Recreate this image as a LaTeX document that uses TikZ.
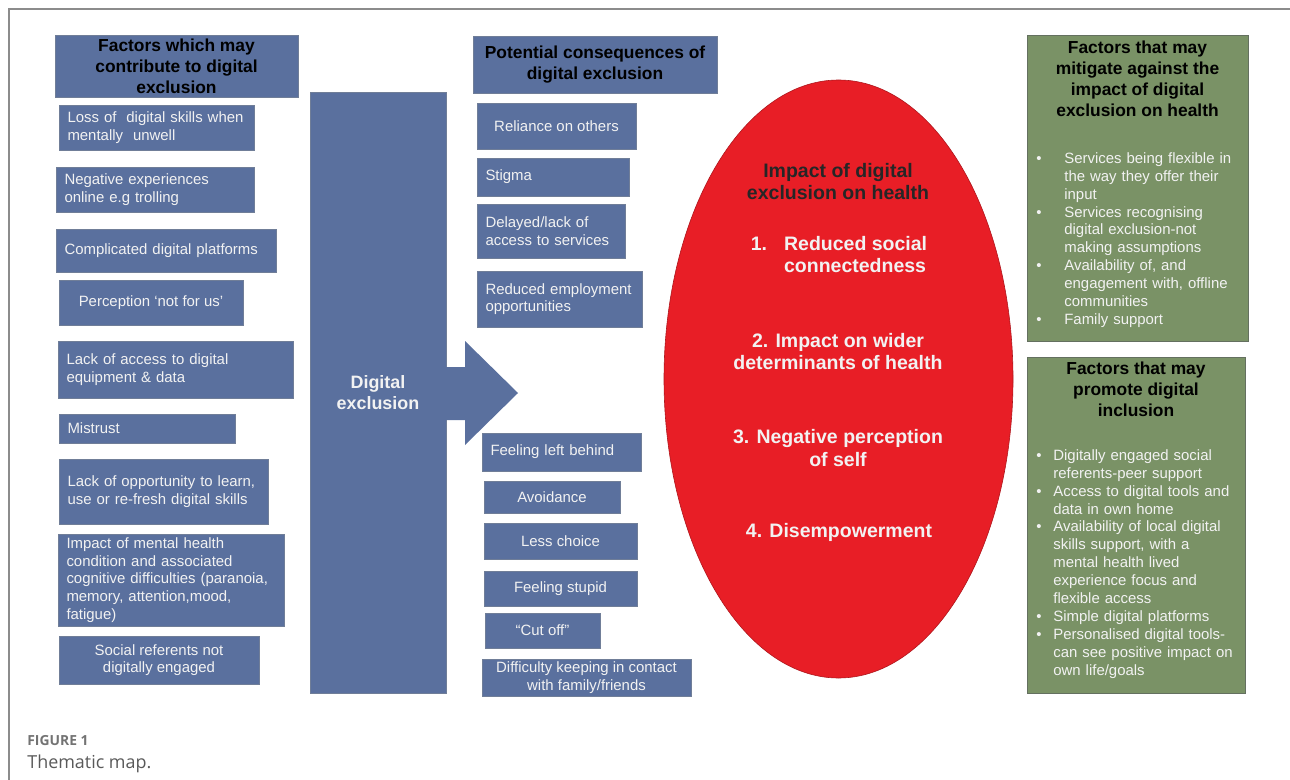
\documentclass[tikz,border=0pt]{standalone}
\usepackage{fontspec}
\setmainfont{Liberation Sans}
\newfontfamily\capfont{Open Sans}
\usepackage{tikz}
\usetikzlibrary{shapes.geometric}
\newdimen\pxu
\pxu=0.02cm
\definecolor{boxBlue}{RGB}{90,112,158}
\definecolor{boxEdge}{RGB}{112,126,152}
\definecolor{greenFill}{RGB}{122,146,102}
\definecolor{greenEdge}{RGB}{100,112,96}
\definecolor{impactRed}{RGB}{232,30,38}
\definecolor{paleText}{RGB}{242,242,242}
\colorlet{frameGray}{black!45}
\newcommand{\boxfont}{\fontsize{8.5}{10}\selectfont}
\newcommand{\headfont}{\fontsize{9.9}{11.9}\selectfont\bfseries}
\newcommand{\listfont}{\fontsize{8.5}{10.2}\selectfont}
\newcommand{\impactfont}{\fontsize{11.1}{13}\selectfont\bfseries}
\newcommand{\exclfont}{\fontsize{10.2}{11.9}\selectfont\bfseries}
\newcommand{\bitem}[1]{\par\noindent\hspace*{-#1}\makebox[#1][l]{\textbullet}}
\tikzset{
    boxsize/.style 2 args={minimum width=#1\pxu, minimum height=#2\pxu},
    factorBox/.style={draw=boxEdge, line width=0.6\pxu, fill=boxBlue, text=paleText,
        font=\boxfont, inner xsep=8.5\pxu, inner ysep=0pt},
    lefttext/.style={align=left, text width=#1\pxu-17\pxu},
    headBox/.style={factorBox, text=black, font=\headfont, align=center},
    greenBox/.style={draw=greenEdge, line width=0.6\pxu, fill=greenFill},
    greenHead/.style={anchor=north, inner sep=0pt, font=\headfont, text=black, align=center},
    greenList/.style={anchor=north west, inner sep=0pt, font=\listfont, text=paleText,
        align=left, text width=210\pxu},
    impactText/.style={font=\impactfont, text=paleText, inner sep=0pt}
}
\begin{document}
\begin{tikzpicture}[x=0.02cm, y=-0.02cm, every node/.style={font=\boxfont}]
    \useasboundingbox (0,0) rectangle (1290,780);
    \draw[frameGray, line width=1.5\pxu] (9,780) -- (9,9) -- (1290,9);

    % Factors which may contribute (left)
    \node[headBox, boxsize={243}{62}] (hdrFactors) at (176.5,66)
        {Factors which may\\contribute to digital\\exclusion};
    \node[factorBox, lefttext=195, boxsize={195}{45}] (fLoss) at (156.5,127.5)
        {Loss of\ \ digital skills when\\mentally\ \ unwell};
    \node[factorBox, lefttext=198, boxsize={198}{45}] (fNegative) at (155,189.5)
        {Negative experiences\\online e.g trolling};
    \node[factorBox, lefttext=220, boxsize={220}{43}] (fPlatforms) at (166,250.5)
        {Complicated digital platforms};
    \node[factorBox, align=center, boxsize={184}{45}] (fPerception) at (151,302.5)
        {Perception ‘not for us’};
    \node[factorBox, lefttext=235, boxsize={235}{57}] (fAccess) at (175.5,369.5)
        {Lack of access to digital\\equipment \& data};
    \node[factorBox, lefttext=176, boxsize={176}{29}] (fMistrust) at (147,428.5)
        {Mistrust};
    \node[factorBox, lefttext=209, boxsize={209}{65}] (fOpportunity) at (163.5,491.5)
        {Lack of opportunity to learn,\\use or re-fresh digital skills};
    \node[factorBox, lefttext=226, boxsize={226}{92}] (fMental) at (171,580)
        {Impact of mental health\\condition and associated\\cognitive difficulties (paranoia,\\memory, attention,mood,\\fatigue)};
    \node[factorBox, align=center, boxsize={200}{48}] (fSocial) at (159,660)
        {Social referents not\\digitally engaged};

    % Digital exclusion bar and arrow
    \node[factorBox, align=center, font=\exclfont, boxsize={136}{601}] (exclBar) at (378,392.5)
        {Digital\\exclusion};
    \coordinate (arrowTip) at (518,393);
    \fill[boxBlue] (440,367) -- (465,367) -- (465,341) -- (arrowTip) -- (465,445)
        -- (465,420) -- (440,420) -- cycle;

    % Potential consequences (centre)
    \node[headBox, boxsize={244}{57}] (hdrConseq) at (595,64.5)
        {Potential consequences of\\digital exclusion};
    \node[factorBox, align=center, boxsize={159}{46}] (cReliance) at (556.5,126) {Reliance on others};
    \node[factorBox, lefttext=152, boxsize={152}{38}] (cStigma) at (553,177) {Stigma};
    \node[factorBox, lefttext=148, boxsize={148}{54}] (cDelayed) at (551,231)
        {Delayed/lack of\\access to services};
    \node[factorBox, lefttext=165, boxsize={165}{56}] (cEmploy) at (559.5,299)
        {Reduced employment\\opportunities};
    \node[factorBox, lefttext=159, boxsize={159}{38}] (cLeft) at (561.5,452) {Feeling left behind};
    \node[factorBox, align=center, boxsize={136}{32}] (cAvoid) at (552,497) {Avoidance};
    \node[factorBox, align=center, boxsize={153}{36}] (cChoice) at (560.5,541) {Less choice};
    \node[factorBox, align=center, boxsize={153}{35}] (cStupid) at (560.5,588.5) {Feeling stupid};
    \node[factorBox, align=center, boxsize={115}{35}] (cCutOff) at (542.5,630.5) {“Cut off”};
    \node[factorBox, align=center, boxsize={209}{37}] (cContact) at (586.5,677.5)
        {Difficulty keeping in contact\\with family/friends};

    % Impact on health (ellipse)
    \node[ellipse, draw=impactRed!75!black, line width=0.6\pxu, fill=impactRed, inner sep=0pt,
        minimum width=349\pxu, minimum height=598\pxu] (impact) at (838.5,379) {};
    \node[impactText, text=black!85, align=center] (impTitle) at (838,181.5)
        {Impact of digital\\exclusion on health};
    \node[impactText, align=left] (impOne) at (839,254.5)
        {1.\hspace{17\pxu}Reduced social\\\hphantom{1.\hspace{17\pxu}}connectedness};
    \node[impactText, align=center] (impTwo) at (838,351.5)
        {2. Impact on wider\\determinants of health};
    \node[impactText, align=center] (impThree) at (838,448)
        {3. Negative perception\\of self};
    \node[impactText] (impFour) at (839,532) {4. Disempowerment};

    % Mitigating and promoting factors (right)
    \node[greenBox, boxsize={221}{306}] (mitBox) at (1137.5,188) {};
    \node[greenHead] (mitHead) at (1137.5,41)
        {Factors that may\\mitigate against the\\impact of digital\\exclusion on health};
    \node[greenList] (mitList) at (1036,145)
        {\leftskip=28\pxu
         \bitem{28\pxu}Services being flexible in\\the way they offer their\\input
         \bitem{28\pxu}Services recognising\\digital exclusion-not\\making assumptions
         \bitem{28\pxu}Availability of, and\\engagement with, offline\\communities
         \bitem{28\pxu}Family support\par};

    \node[greenBox, boxsize={218}{336}] (proBox) at (1136,525) {};
    \node[greenHead] (proHead) at (1136,362)
        {Factors that may\\promote digital\\inclusion};
    \node[greenList] (proList) at (1036,442)
        {\leftskip=17\pxu
         \bitem{17\pxu}Digitally engaged social\\referents-peer support
         \bitem{17\pxu}Access to digital tools and\\data in own home
         \bitem{17\pxu}Availability of local digital\\skills support, with a\\mental health lived\\experience focus and\\flexible access
         \bitem{17\pxu}Simple digital platforms
         \bitem{17\pxu}Personalised digital tools-\\can see positive impact on\\own life/goals\par};

    % Caption
    \node[anchor=base west, inner sep=0pt, text=black!55,
        font={\capfont\fontsize{7.9}{9.5}\selectfont\bfseries}] (figLabel) at (27,745) {FIGURE 1};
    \node[anchor=base west, inner sep=0pt, text=black!65,
        font={\capfont\fontsize{10.2}{12}\selectfont}] (figCaption) at (27,768) {Thematic map.};
\end{tikzpicture}
\end{document}
